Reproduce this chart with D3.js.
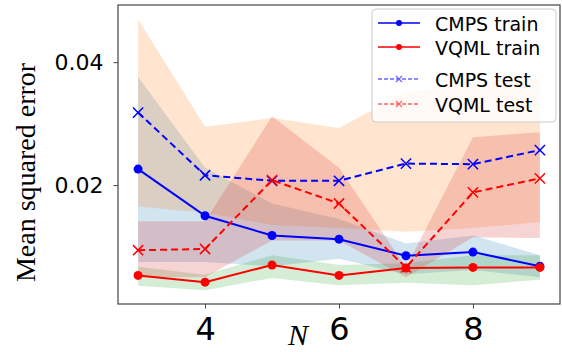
<!DOCTYPE html>
<html>
<head>
<meta charset="utf-8">
<script src="https://cdn.jsdelivr.net/npm/d3@7"></script>
<style>
  body { margin: 0; background: #fff; }
  svg { display: block; }
</style>
</head>
<body>
<div id="chart"></div>
<script>
// data
const nValues = [3, 4, 5, 6, 7, 8, 9];

const cmpsTrain = [0.0226, 0.0150, 0.0118, 0.0112, 0.0085, 0.0091, 0.0068];
const vqmlTrain = [0.0053, 0.0042, 0.0070, 0.0053, 0.0065, 0.0066, 0.0066];
const cmpsTest  = [0.0318, 0.0216, 0.0207, 0.0207, 0.0235, 0.0234, 0.0257];
const vqmlTest  = [0.0094, 0.0096, 0.0208, 0.0170, 0.0066, 0.0188, 0.0211];

// shaded spread around each curve
const cmpsTrainLow  = [0.0075, 0.0075, 0.0068, 0.0080, 0.0055, 0.0062, 0.0050];
const cmpsTrainHigh = [0.0376, 0.0228, 0.0170, 0.0145, 0.0105, 0.0118, 0.0086];
const vqmlTrainLow  = [0.0036, 0.0029, 0.0049, 0.0037, 0.0041, 0.0037, 0.0046];
const vqmlTrainHigh = [0.0067, 0.0054, 0.0086, 0.0070, 0.0073, 0.0086, 0.0086];
const cmpsTestLow   = [0.0165, 0.0155, 0.0135, 0.0130, 0.0124, 0.0130, 0.0140];
const cmpsTestHigh  = [0.0470, 0.0295, 0.0309, 0.0293, 0.0351, 0.0366, 0.0374];
const vqmlTestLow   = [0.0050, 0.0050, 0.0110, 0.0110, 0.0050, 0.0115, 0.0114];
const vqmlTestHigh  = [0.0141, 0.0141, 0.0312, 0.0228, 0.0066, 0.0278, 0.0286];

const xTicks = [4, 6, 8];
const yTicks = [0.02, 0.04];

const width = 562, height = 352;
const plotLeft = 118, plotRight = 560, plotTop = 5, plotBottom = 304;

const svg = d3.select("#chart").append("svg")
    .attr("width", width)
    .attr("height", height);

const x = d3.scaleLinear().domain([2.7, 9.3]).range([plotLeft, plotRight]);
const y = d3.scaleLinear().domain([0.00065, 0.0493]).range([plotBottom, plotTop]);

// bands (matplotlib default cycle, alpha 0.2)
const bands = [
    {lo: cmpsTrainLow, hi: cmpsTrainHigh, color: "#1f77b4"},
    {lo: cmpsTestLow,  hi: cmpsTestHigh,  color: "#ff7f0e"},
    {lo: vqmlTrainLow, hi: vqmlTrainHigh, color: "#2ca02c"},
    {lo: vqmlTestLow,  hi: vqmlTestHigh,  color: "#d62728"}
];

const area = d3.area()
    .x(d => x(d.n))
    .y0(d => y(d.lo))
    .y1(d => y(d.hi));

bands.forEach(b => {
    const rows = nValues.map((n, i) => ({n: n, lo: b.lo[i], hi: b.hi[i]}));
    svg.append("path")
        .datum(rows)
        .attr("d", area)
        .attr("fill", b.color)
        .attr("fill-opacity", 0.2);
});

// curves
const series = [
    {vals: cmpsTrain, color: "blue", dash: null,  marker: "dot"},
    {vals: vqmlTrain, color: "red",  dash: null,  marker: "dot"},
    {vals: cmpsTest,  color: "blue", dash: "7,4", marker: "x"},
    {vals: vqmlTest,  color: "red",  dash: "7,4", marker: "x"}
];

const line = d3.line().x(d => x(d.n)).y(d => y(d.v));

series.forEach(s => {
    const rows = nValues.map((n, i) => ({n: n, v: s.vals[i]}));
    svg.append("path")
        .datum(rows)
        .attr("d", line)
        .attr("fill", "none")
        .attr("stroke", s.color)
        .attr("stroke-width", 2)
        .attr("stroke-dasharray", s.dash);

    if (s.marker === "dot") {
        svg.selectAll(null)
            .data(rows)
            .enter().append("circle")
            .attr("cx", d => x(d.n))
            .attr("cy", d => y(d.v))
            .attr("r", 4.5)
            .attr("fill", s.color);
    } else {
        svg.selectAll(null)
            .data(rows)
            .enter().append("path")
            .attr("d", d3.symbol(d3.symbolTimes, 70))
            .attr("transform", d => `translate(${x(d.n)},${y(d.v)})`)
            .attr("fill", "none")
            .attr("stroke", s.color)
            .attr("stroke-width", 1.5);
    }
});

// frame
svg.append("rect")
    .attr("x", plotLeft).attr("y", plotTop)
    .attr("width", plotRight - plotLeft).attr("height", plotBottom - plotTop)
    .attr("fill", "none")
    .attr("stroke", "#444")
    .attr("stroke-width", 1.2);

// axes
const yAxis = svg.append("g")
    .attr("transform", `translate(${plotLeft},0)`)
    .call(d3.axisLeft(y).tickValues(yTicks).tickFormat(d3.format(".2f")).tickSize(4.5).tickPadding(10));
yAxis.select(".domain").remove();
yAxis.selectAll("text")
    .attr("font-family", "DejaVu Sans")
    .attr("font-size", 22)
    .attr("fill", "#000");
yAxis.selectAll("line").attr("stroke", "#444");

const xAxis = svg.append("g")
    .attr("transform", `translate(0,${plotBottom})`)
    .call(d3.axisBottom(x).tickValues(xTicks).tickFormat(d3.format("d")).tickSize(4.5).tickPadding(9));
xAxis.select(".domain").remove();
xAxis.selectAll("text")
    .attr("font-family", "DejaVu Sans")
    .attr("font-size", 32)
    .attr("fill", "#000");
xAxis.selectAll("line").attr("stroke", "#444");

// axis labels
svg.append("text")
    .attr("transform", "translate(35,172.5) rotate(-90)")
    .attr("text-anchor", "middle")
    .attr("font-family", "Liberation Serif")
    .attr("font-size", 28)
    .text("Mean squared error");

svg.append("text")
    .attr("x", 298)
    .attr("y", 345)
    .attr("text-anchor", "middle")
    .attr("font-family", "Liberation Serif")
    .attr("font-style", "italic")
    .attr("font-size", 30)
    .text("N");

// legend
const legend = svg.append("g");
legend.append("rect")
    .attr("x", 372).attr("y", 9)
    .attr("width", 184).attr("height", 113)
    .attr("rx", 4)
    .attr("fill", "#fff")
    .attr("fill-opacity", 0.8)
    .attr("stroke", "#ccc")
    .attr("stroke-width", 1);

const legendItems = [
    {label: "CMPS train", color: "blue", dash: null,  marker: "dot", y: 23, alpha: 1},
    {label: "VQML train", color: "red",  dash: null,  marker: "dot", y: 47, alpha: 1},
    {label: "CMPS test",  color: "blue", dash: "4,2", marker: "x",   y: 79, alpha: 0.6},
    {label: "VQML test",  color: "red",  dash: "4,2", marker: "x",   y: 104, alpha: 0.6}
];

legendItems.forEach(it => {
    const g = legend.append("g").attr("opacity", it.alpha);
    g.append("line")
        .attr("x1", 378).attr("x2", 420)
        .attr("y1", it.y).attr("y2", it.y)
        .attr("stroke", it.color)
        .attr("stroke-width", 1.5)
        .attr("stroke-dasharray", it.dash);
    if (it.marker === "dot") {
        g.append("circle")
            .attr("cx", 399).attr("cy", it.y).attr("r", 3)
            .attr("fill", it.color);
    } else {
        g.append("path")
            .attr("d", d3.symbol(d3.symbolTimes, 25))
            .attr("transform", `translate(399,${it.y})`)
            .attr("fill", "none")
            .attr("stroke", it.color)
            .attr("stroke-width", 1.2);
    }
    legend.append("text")
        .attr("x", 435)
        .attr("y", it.y + 1)
        .attr("dominant-baseline", "central")
        .attr("font-family", "DejaVu Sans")
        .attr("font-size", 19)
        .attr("fill", "#000")
        .text(it.label);
});
</script>
</body>
</html>
